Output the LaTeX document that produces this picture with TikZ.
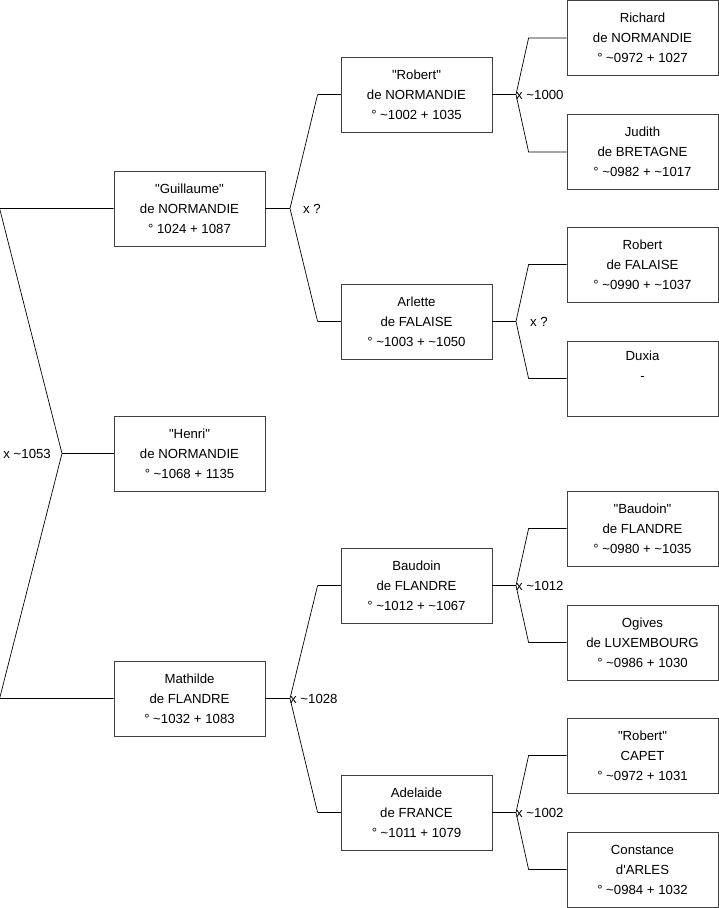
\documentclass[tikz,border=0pt]{standalone}
\usepackage{fontspec}
\setmainfont{Liberation Sans}[Ligatures=TeXOff]
\newcommand\apprx{\textasciitilde}
\begin{document}
\begin{tikzpicture}[x=1pt,y=-1pt,
  person/.style={draw=black!75, line width=0.8pt, fill=white, minimum width=151pt, minimum height=75pt,
    inner sep=0pt, align=center, font=\fontsize{13.2}{20}\selectfont},
  conn/.style={draw=black, line width=0.7pt},
  lbl/.style={inner sep=0pt, font=\fontsize{13.2}{15}\selectfont}]
\useasboundingbox (0,0) rectangle (719,908);
% column 1
\node[person] (G) at (189.5,208.5) {"Guillaume"\\de NORMANDIE\\° 1024 + 1087};
\node[person] (H) at (189.5,453.5) {"Henri"\\de NORMANDIE\\° \apprx1068 + 1135};
\node[person] (M) at (189.5,698.5) {Mathilde\\de FLANDRE\\° \apprx1032 + 1083};
% column 2
\node[person] (R) at (416.5,94.5) {"Robert"\\de NORMANDIE\\° \apprx1002 + 1035};
\node[person] (A) at (416.5,321.5) {Arlette\\de FALAISE\\° \apprx1003 + \apprx1050};
\node[person] (B) at (416.5,585.5) {Baudoin\\de FLANDRE\\° \apprx1012 + \apprx1067};
\node[person] (Ad) at (416.5,812.5) {Adelaide\\de FRANCE\\° \apprx1011 + 1079};
% column 3
\node[person] (Ri) at (642.5,38) {Richard\\de NORMANDIE\\° \apprx0972 + 1027};
\node[person] (Ju) at (642.5,152) {Judith\\de BRETAGNE\\° \apprx0982 + \apprx1017};
\node[person] (RF) at (642.5,264.5) {Robert\\de FALAISE\\° \apprx0990 + \apprx1037};
\node[person] (Du) at (642.5,378.5) {Duxia\\-\\\strut};
\node[person] (Ba) at (642.5,528.5) {"Baudoin"\\de FLANDRE\\° \apprx0980 + \apprx1035};
\node[person] (Og) at (642.5,642.5) {Ogives\\de LUXEMBOURG\\° \apprx0986 + 1030};
\node[person] (RC) at (642.5,755.5) {"Robert"\\CAPET\\° \apprx0972 + 1031};
\node[person] (Co) at (642.5,869.5) {Constance\\d'ARLES\\° \apprx0984 + 1032};
% junctions
\coordinate (jH) at (62,453.5);
\coordinate (jG) at (290,208.5);
\coordinate (jM) at (290,698.5);
\coordinate (jR) at (516,94.5);
\coordinate (jA) at (516,321.5);
\coordinate (jB) at (516,585.5);
\coordinate (jAd) at (516,812.5);
% connectors
\draw[conn] (G.west) -- ([xshift=-114pt]G.west) -- (jH) -- ([xshift=-114pt]M.west) -- (M.west);
\draw[conn] (jH) -- (H.west);
\foreach \p/\a/\b in {G/R/A, M/B/Ad}{
  \draw[conn] ([xshift=-23pt]\a.west) -- (j\p) -- ([xshift=-23pt]\b.west);
  \draw[conn] (\p.east) -- (j\p);
  \draw[conn] ([xshift=-23pt]\a.west) -- (\a.west);
  \draw[conn] ([xshift=-23pt]\b.west) -- (\b.west);
}
\foreach \p/\a/\b in {R/Ri/Ju, A/RF/Du, B/Ba/Og, Ad/RC/Co}{
  \draw[conn] (\a.west) -- ([xshift=-38pt]\a.west) -- (j\p) -- ([xshift=-38pt]\b.west) -- (\b.west);
  \draw[conn] (\p.east) -- (j\p);
}
% labels
\node[lbl, anchor=east] (lH) at ([xshift=-11pt]jH) {x \apprx1053};
\node[lbl, anchor=west] (lG) at ([xshift=13pt]jG) {x ?};
\node[lbl, anchor=west] (lM) at ([xshift=0pt]jM) {x \apprx1028};
\node[lbl, anchor=west] (lR) at ([xshift=0pt]jR) {x \apprx1000};
\node[lbl, anchor=west] (lA) at ([xshift=14pt]jA) {x ?};
\node[lbl, anchor=west] (lB) at ([xshift=0pt]jB) {x \apprx1012};
\node[lbl, anchor=west] (lAd) at ([xshift=0pt]jAd) {x \apprx1002};
\end{tikzpicture}
\end{document}
